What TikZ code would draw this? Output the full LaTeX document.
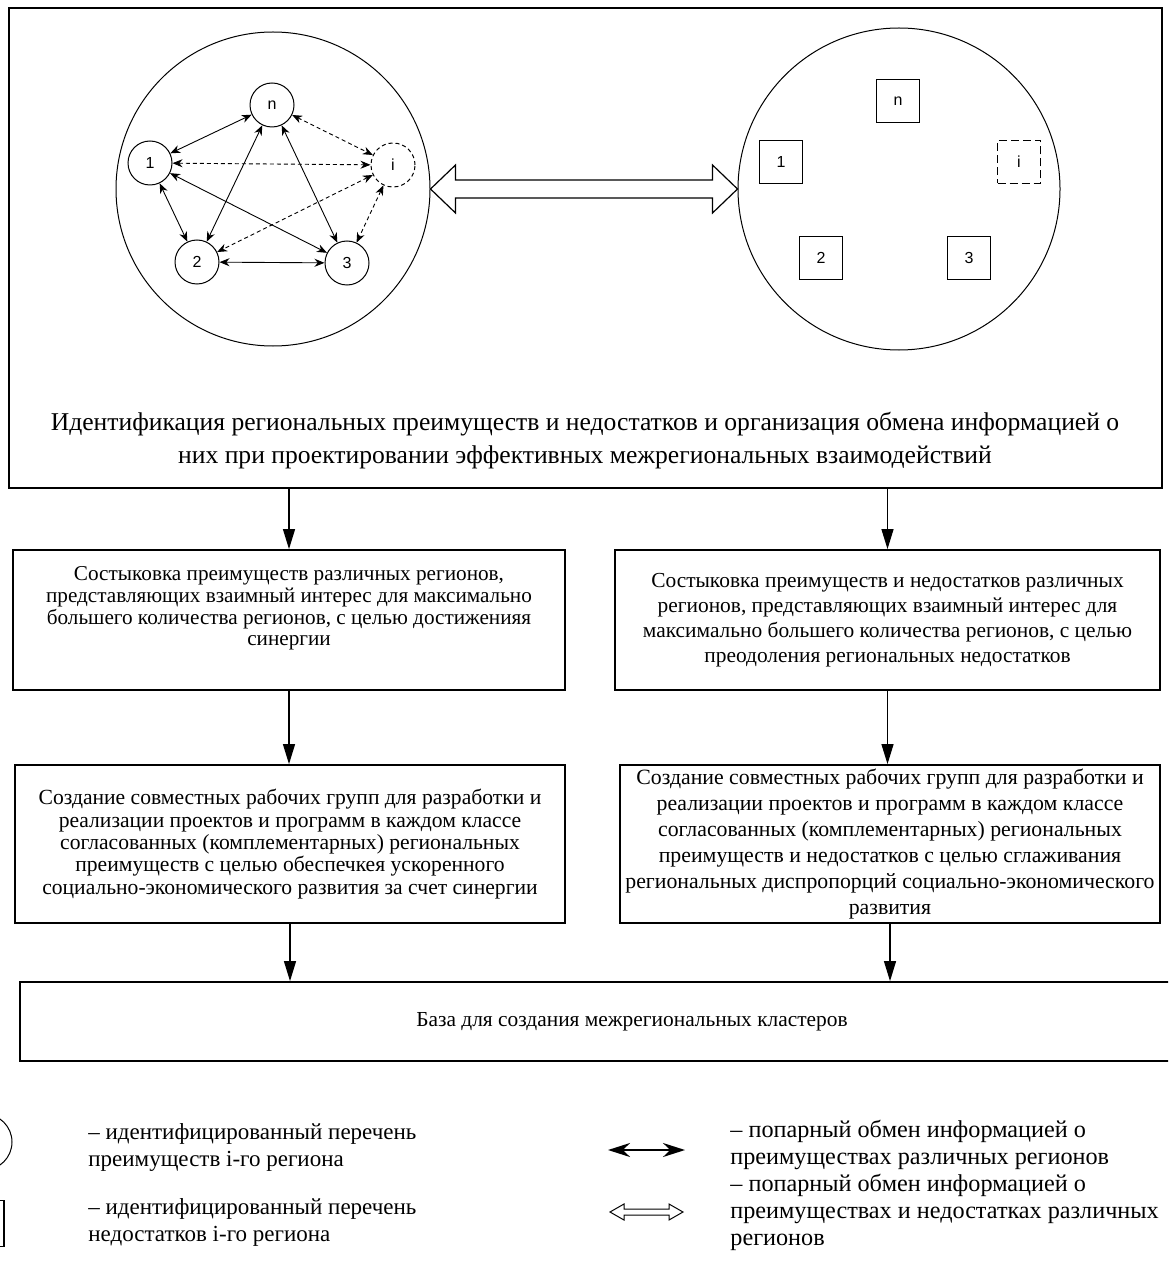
\documentclass[tikz,border=0pt]{standalone}
\usepackage{fontspec}
\setmainfont{Liberation Serif}
\newfontfamily\labelfont{Liberation Sans}
\usetikzlibrary{positioning, calc, arrows.meta}

\begin{document}
\begin{tikzpicture}[x=0.5pt, y=-0.5pt]
    \tikzstyle{block} = [rectangle, draw=black, line width=0.9pt, align=center, inner sep=0pt]
    \tikzstyle{region} = [circle, draw=black, line width=0.5pt, minimum size=22pt, inner sep=0pt, font=\labelfont\fontsize{8}{9}\selectfont]
    \tikzstyle{lack} = [rectangle, draw=black, line width=0.6pt, minimum size=21.5pt, inner sep=0pt, font=\labelfont\fontsize{8}{9}\selectfont]
    \tikzstyle{link} = [line width=0.45pt, {Stealth[length=5pt,width=4pt]}-{Stealth[length=5pt,width=4pt]}]
    \tikzstyle{arrow} = [line width=0.6pt, -{Triangle[length=10pt,width=6pt]}]
    \tikzstyle{legend} = [anchor=west, align=left, inner sep=0pt, font=\fontsize{11.5}{13.5}\selectfont]
    \clip (0,0) rectangle (1168,1267);
    % top part
    \node (topbox) [block, minimum width=576.5pt, minimum height=240pt] at (585.5,248) {};
    \node (lc) [circle, draw=black, line width=0.5pt, minimum size=157pt] at (273,189) {};
    \node (rc) [circle, draw=black, line width=0.5pt, minimum size=161pt] at (899,189) {};
    \node (r1) [region] at (150,163) {1};
    \node (rn) [region] at (272,105) {n};
    \node (ri) [region, dash pattern=on 2pt off 1.5pt] at (393,165) {i};
    \node (r2) [region] at (197,262) {2};
    \node (r3) [region] at (347,263) {3};
    \node (q1) [lack] at (781,162) {1};
    \node (qn) [lack] at (898,101) {n};
    \node (qi) [lack, dash pattern=on 4pt off 2pt] at (1019,162) {i};
    \node (q2) [lack] at (821,258) {2};
    \node (q3) [lack] at (969,258) {3};
    \draw [link] (r1) -- (rn);
    \draw [link] (r1) -- (r2);
    \draw [link] (r1) -- (r3);
    \draw [link] (rn) -- (r2);
    \draw [link] (rn) -- (r3);
    \draw [link] (r2) -- (r3);
    \draw [link, dash pattern=on 2pt off 1.5pt] (r1) -- (ri);
    \draw [link, dash pattern=on 2pt off 1.5pt] (rn) -- (ri);
    \draw [link, dash pattern=on 2pt off 1.5pt] (ri) -- (r2);
    \draw [link, dash pattern=on 2pt off 1.5pt] (ri) -- (r3);
    \coordinate (la) at (lc.east);
    \coordinate (ra) at (rc.west);
    \draw [line width=0.6pt] (la) -- ++(25,-24) -- ++(0,15) -- ($(ra)+(-25,-9)$) -- ++(0,-15) -- (ra)
      -- ++(-25,24) -- ++(0,-15) -- ($(la)+(25,9)$) -- ++(0,15) -- cycle;
    \node (toptext) [align=center, font=\fontsize{12.8}{16.5}\selectfont] at (585,441) {Идентификация региональных преимуществ и недостатков и организация обмена информацией о\\них при проектировании эффективных межрегиональных взаимодействий};
    % boxes
    \node (match1) [block, minimum width=276pt, minimum height=70pt, font=\fontsize{10.6}{10.8}\selectfont] at (289,620) {Состыковка преимуществ различных регионов,\\представляющих взаимный интерес для максимально\\большего количества регионов, с целью достиженияя\\синергии\\[3pt]};
    \node (match2) [block, minimum width=272.5pt, minimum height=70pt, font=\fontsize{10.7}{12.5}\selectfont] at (887.5,620) {Состыковка преимуществ и недостатков различных\\регионов, представляющих взаимный интерес для\\максимально большего количества регионов, с целью\\преодоления региональных недостатков};
    \node (group1) [block, minimum width=275pt, minimum height=79pt, font=\fontsize{10.8}{11.2}\selectfont] at (290,844) {Создание совместных рабочих групп для разработки и\\реализации проектов и программ в каждом классе\\согласованных (комплементарных) региональных\\преимуществ с целью обеспечкея ускоренного\\социально-экономического развития за счет синергии};
    \node (group2) [block, minimum width=270pt, minimum height=79pt, font=\fontsize{10.9}{13}\selectfont] at (890,844) {Создание совместных рабочих групп для разработки и\\реализации проектов и программ в каждом классе\\согласованных (комплементарных) региональных\\преимуществ и недостатков с целью сглаживания\\региональных диспропорций социально-экономического\\развития};
    \node (base) [block, minimum width=612pt, minimum height=39.5pt, font=\fontsize{10.7}{13}\selectfont] at (632,1021.5) {База для создания межрегиональных кластеров};
    \draw [arrow] (match1 |- topbox.south) -- (match1);
    \draw [arrow] (match2 |- topbox.south) -- (match2);
    \draw [arrow] (match1.south) -- (match1.south |- group1.north);
    \draw [arrow] (match2.south) -- (match2.south |- group2.north);
    \draw [arrow] (group1.south) -- (group1.south |- base.north);
    \draw [arrow] (group2.south) -- (group2.south |- base.north);
    % legend
    \node (legcirc) [circle, draw=black, line width=0.5pt, minimum size=28pt] at (-16,1142) {};
    \node (legsq) [rectangle, draw=black, line width=0.6pt, minimum size=23pt] at (-19,1223.5) {};
    \node (legtext1) [legend] at (88,1147) {– идентифицированный перечень\\преимуществ i-го региона};
    \node (legtext2) [legend] at (88,1222) {– идентифицированный перечень\\недостатков i-го региона};
    \node (legtext3) [legend, font=\fontsize{12.1}{13.5}\selectfont] at (730,1145) {– попарный обмен информацией о\\преимуществах различных регионов};
    \node (legtext4) [legend, font=\fontsize{12.1}{13.5}\selectfont] at (730,1212) {– попарный обмен информацией о\\преимуществах и недостатках различных\\регионов};
    \coordinate (fa) at (608,1150);
    \coordinate (fb) at (685,1150);
    \draw [line width=1pt, {Stealth[length=11pt,width=7pt]}-{Stealth[length=11pt,width=7pt]}] (fa) -- (fb);
    \coordinate (ha) at (610,1212);
    \coordinate (hb) at (683,1212);
    \draw [line width=0.5pt] (ha) -- ++(14,-8) -- ++(0,5) -- ($(hb)+(-14,-3)$) -- ++(0,-5) -- (hb)
      -- ++(-14,8) -- ++(0,-5) -- ($(ha)+(14,3)$) -- ++(0,5) -- cycle;
\end{tikzpicture}
\end{document}
